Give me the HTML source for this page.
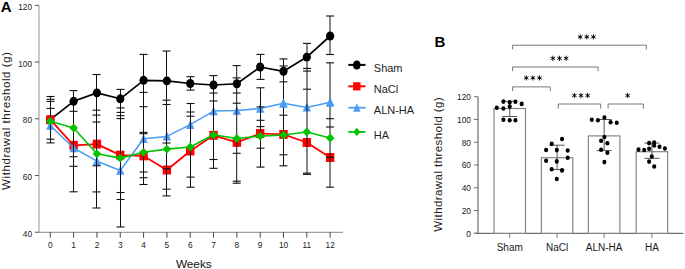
<!DOCTYPE html>
<html><head><meta charset="utf-8"><style>
html,body{margin:0;padding:0;background:#fff;}
body{width:685px;height:269px;overflow:hidden;font-family:"Liberation Sans",sans-serif;}
svg{display:block;}
</style></head><body>
<svg width="685" height="269" viewBox="0 0 685 269">
<rect width="685" height="269" fill="#fff"/>
<text x="0.8" y="11.9" font-family="Liberation Sans, sans-serif" font-weight="bold" font-size="15" fill="#000">A</text>
<text transform="translate(10.0,120.6) rotate(-90)" text-anchor="middle" font-family="Liberation Sans, sans-serif" font-size="11.5" letter-spacing="0.58" fill="#222">Withdrawal threshold (g)</text>
<line x1="39" y1="5.3" x2="39" y2="232.3" stroke="#c4c4c4" stroke-width="1.8"/>
<line x1="34.8" y1="232.30" x2="39" y2="232.30" stroke="#555" stroke-width="1"/>
<text x="32" y="236.90" text-anchor="end" font-family="Liberation Sans, sans-serif" font-size="8.3" fill="#1a1a1a">40</text>
<line x1="34.8" y1="175.55" x2="39" y2="175.55" stroke="#555" stroke-width="1"/>
<text x="32" y="180.15" text-anchor="end" font-family="Liberation Sans, sans-serif" font-size="8.3" fill="#1a1a1a">60</text>
<line x1="34.8" y1="118.80" x2="39" y2="118.80" stroke="#555" stroke-width="1"/>
<text x="32" y="123.40" text-anchor="end" font-family="Liberation Sans, sans-serif" font-size="8.3" fill="#1a1a1a">80</text>
<line x1="34.8" y1="62.05" x2="39" y2="62.05" stroke="#555" stroke-width="1"/>
<text x="32" y="66.65" text-anchor="end" font-family="Liberation Sans, sans-serif" font-size="8.3" fill="#1a1a1a">100</text>
<line x1="34.8" y1="5.30" x2="39" y2="5.30" stroke="#555" stroke-width="1"/>
<text x="32" y="9.90" text-anchor="end" font-family="Liberation Sans, sans-serif" font-size="8.3" fill="#1a1a1a">120</text>
<line x1="35" y1="232.3" x2="343" y2="232.3" stroke="#8a8a8a" stroke-width="1"/>
<line x1="50.30" y1="232.3" x2="50.30" y2="237.7" stroke="#444" stroke-width="1"/>
<text x="50.30" y="248" text-anchor="middle" font-family="Liberation Sans, sans-serif" font-size="8.3" fill="#1a1a1a">0</text>
<line x1="73.62" y1="232.3" x2="73.62" y2="237.7" stroke="#444" stroke-width="1"/>
<text x="73.62" y="248" text-anchor="middle" font-family="Liberation Sans, sans-serif" font-size="8.3" fill="#1a1a1a">1</text>
<line x1="96.94" y1="232.3" x2="96.94" y2="237.7" stroke="#444" stroke-width="1"/>
<text x="96.94" y="248" text-anchor="middle" font-family="Liberation Sans, sans-serif" font-size="8.3" fill="#1a1a1a">2</text>
<line x1="120.26" y1="232.3" x2="120.26" y2="237.7" stroke="#444" stroke-width="1"/>
<text x="120.26" y="248" text-anchor="middle" font-family="Liberation Sans, sans-serif" font-size="8.3" fill="#1a1a1a">3</text>
<line x1="143.58" y1="232.3" x2="143.58" y2="237.7" stroke="#444" stroke-width="1"/>
<text x="143.58" y="248" text-anchor="middle" font-family="Liberation Sans, sans-serif" font-size="8.3" fill="#1a1a1a">4</text>
<line x1="166.90" y1="232.3" x2="166.90" y2="237.7" stroke="#444" stroke-width="1"/>
<text x="166.90" y="248" text-anchor="middle" font-family="Liberation Sans, sans-serif" font-size="8.3" fill="#1a1a1a">5</text>
<line x1="190.22" y1="232.3" x2="190.22" y2="237.7" stroke="#444" stroke-width="1"/>
<text x="190.22" y="248" text-anchor="middle" font-family="Liberation Sans, sans-serif" font-size="8.3" fill="#1a1a1a">6</text>
<line x1="213.54" y1="232.3" x2="213.54" y2="237.7" stroke="#444" stroke-width="1"/>
<text x="213.54" y="248" text-anchor="middle" font-family="Liberation Sans, sans-serif" font-size="8.3" fill="#1a1a1a">7</text>
<line x1="236.86" y1="232.3" x2="236.86" y2="237.7" stroke="#444" stroke-width="1"/>
<text x="236.86" y="248" text-anchor="middle" font-family="Liberation Sans, sans-serif" font-size="8.3" fill="#1a1a1a">8</text>
<line x1="260.18" y1="232.3" x2="260.18" y2="237.7" stroke="#444" stroke-width="1"/>
<text x="260.18" y="248" text-anchor="middle" font-family="Liberation Sans, sans-serif" font-size="8.3" fill="#1a1a1a">9</text>
<line x1="283.50" y1="232.3" x2="283.50" y2="237.7" stroke="#444" stroke-width="1"/>
<text x="283.50" y="248" text-anchor="middle" font-family="Liberation Sans, sans-serif" font-size="8.3" fill="#1a1a1a">10</text>
<line x1="306.82" y1="232.3" x2="306.82" y2="237.7" stroke="#444" stroke-width="1"/>
<text x="306.82" y="248" text-anchor="middle" font-family="Liberation Sans, sans-serif" font-size="8.3" fill="#1a1a1a">11</text>
<line x1="330.14" y1="232.3" x2="330.14" y2="237.7" stroke="#444" stroke-width="1"/>
<text x="330.14" y="248" text-anchor="middle" font-family="Liberation Sans, sans-serif" font-size="8.3" fill="#1a1a1a">12</text>
<text x="193.8" y="267.5" text-anchor="middle" font-family="Liberation Sans, sans-serif" font-size="11.8" fill="#111">Weeks</text>
<polyline points="50.30,119.70 73.62,101.30 96.94,92.90 120.26,98.80 143.58,80.30 166.90,80.90 190.22,83.50 213.54,85.00 236.86,83.75 260.18,67.00 283.50,71.30 306.82,57.10 330.14,36.00" fill="none" stroke="#000" stroke-width="1.7" stroke-linejoin="round"/>
<ellipse cx="50.30" cy="119.70" rx="4.1" ry="4.45" fill="#000"/>
<polyline points="50.30,119.70 73.62,145.30 96.94,144.10 120.26,155.10 143.58,155.90 166.90,170.00 190.22,151.00 213.54,135.30 236.86,142.40 260.18,133.50 283.50,134.40 306.82,142.50 330.14,157.50" fill="none" stroke="#ff0000" stroke-width="1.75" stroke-linejoin="round"/>
<rect x="46.10" y="115.25" width="8.4" height="8.9" fill="#ff0000"/>
<rect x="69.42" y="140.85" width="8.4" height="8.9" fill="#ff0000"/>
<rect x="92.74" y="139.65" width="8.4" height="8.9" fill="#ff0000"/>
<rect x="116.06" y="150.65" width="8.4" height="8.9" fill="#ff0000"/>
<rect x="139.38" y="151.45" width="8.4" height="8.9" fill="#ff0000"/>
<rect x="162.70" y="165.55" width="8.4" height="8.9" fill="#ff0000"/>
<rect x="186.02" y="146.55" width="8.4" height="8.9" fill="#ff0000"/>
<rect x="209.34" y="130.85" width="8.4" height="8.9" fill="#ff0000"/>
<rect x="232.66" y="137.95" width="8.4" height="8.9" fill="#ff0000"/>
<rect x="255.98" y="129.05" width="8.4" height="8.9" fill="#ff0000"/>
<rect x="279.30" y="129.95" width="8.4" height="8.9" fill="#ff0000"/>
<rect x="302.62" y="138.05" width="8.4" height="8.9" fill="#ff0000"/>
<rect x="325.94" y="153.05" width="8.4" height="8.9" fill="#ff0000"/>
<polyline points="50.30,125.50 73.62,148.00 96.94,161.20 120.26,170.50 143.58,138.70 166.90,136.40 190.22,124.70 213.54,111.10 236.86,110.60 260.18,108.50 283.50,103.20 306.82,107.40 330.14,102.30" fill="none" stroke="#4a9cf6" stroke-width="1.5" stroke-linejoin="round"/>
<path d="M50.30,120.80 L54.50,129.70 L46.10,129.70Z" fill="#4a9cf6"/>
<path d="M73.62,143.30 L77.82,152.20 L69.42,152.20Z" fill="#4a9cf6"/>
<path d="M96.94,156.50 L101.14,165.40 L92.74,165.40Z" fill="#4a9cf6"/>
<path d="M120.26,165.80 L124.46,174.70 L116.06,174.70Z" fill="#4a9cf6"/>
<path d="M143.58,134.00 L147.78,142.90 L139.38,142.90Z" fill="#4a9cf6"/>
<path d="M166.90,131.70 L171.10,140.60 L162.70,140.60Z" fill="#4a9cf6"/>
<path d="M190.22,120.00 L194.42,128.90 L186.02,128.90Z" fill="#4a9cf6"/>
<path d="M213.54,106.40 L217.74,115.30 L209.34,115.30Z" fill="#4a9cf6"/>
<path d="M236.86,105.90 L241.06,114.80 L232.66,114.80Z" fill="#4a9cf6"/>
<path d="M260.18,103.80 L264.38,112.70 L255.98,112.70Z" fill="#4a9cf6"/>
<path d="M283.50,98.50 L287.70,107.40 L279.30,107.40Z" fill="#4a9cf6"/>
<path d="M306.82,102.70 L311.02,111.60 L302.62,111.60Z" fill="#4a9cf6"/>
<path d="M330.14,97.60 L334.34,106.50 L325.94,106.50Z" fill="#4a9cf6"/>
<line x1="50.50" y1="96.50" x2="50.50" y2="142.90" stroke="#111" stroke-width="1"/>
<line x1="46.50" y1="96.50" x2="54.50" y2="96.50" stroke="#111" stroke-width="1.1"/>
<line x1="46.50" y1="99.30" x2="54.50" y2="99.30" stroke="#111" stroke-width="1.1"/>
<line x1="46.50" y1="101.40" x2="54.50" y2="101.40" stroke="#111" stroke-width="1.1"/>
<line x1="46.50" y1="108.40" x2="54.50" y2="108.40" stroke="#111" stroke-width="1.1"/>
<line x1="46.50" y1="139.20" x2="54.50" y2="139.20" stroke="#111" stroke-width="1.1"/>
<line x1="46.50" y1="142.90" x2="54.50" y2="142.90" stroke="#111" stroke-width="1.1"/>
<line x1="73.50" y1="90.60" x2="73.50" y2="191.80" stroke="#111" stroke-width="1"/>
<line x1="69.50" y1="90.60" x2="77.50" y2="90.60" stroke="#111" stroke-width="1.1"/>
<line x1="69.50" y1="111.30" x2="77.50" y2="111.30" stroke="#111" stroke-width="1.1"/>
<line x1="69.50" y1="156.70" x2="77.50" y2="156.70" stroke="#111" stroke-width="1.1"/>
<line x1="69.50" y1="166.30" x2="77.50" y2="166.30" stroke="#111" stroke-width="1.1"/>
<line x1="69.50" y1="191.80" x2="77.50" y2="191.80" stroke="#111" stroke-width="1.1"/>
<line x1="96.50" y1="74.50" x2="96.50" y2="208.00" stroke="#111" stroke-width="1"/>
<line x1="92.50" y1="74.50" x2="100.50" y2="74.50" stroke="#111" stroke-width="1.1"/>
<line x1="92.50" y1="110.20" x2="100.50" y2="110.20" stroke="#111" stroke-width="1.1"/>
<line x1="92.50" y1="115.10" x2="100.50" y2="115.10" stroke="#111" stroke-width="1.1"/>
<line x1="92.50" y1="122.00" x2="100.50" y2="122.00" stroke="#111" stroke-width="1.1"/>
<line x1="92.50" y1="165.80" x2="100.50" y2="165.80" stroke="#111" stroke-width="1.1"/>
<line x1="92.50" y1="191.90" x2="100.50" y2="191.90" stroke="#111" stroke-width="1.1"/>
<line x1="92.50" y1="208.00" x2="100.50" y2="208.00" stroke="#111" stroke-width="1.1"/>
<line x1="120.50" y1="89.40" x2="120.50" y2="227.00" stroke="#111" stroke-width="1"/>
<line x1="116.50" y1="89.40" x2="124.50" y2="89.40" stroke="#111" stroke-width="1.1"/>
<line x1="116.50" y1="107.90" x2="124.50" y2="107.90" stroke="#111" stroke-width="1.1"/>
<line x1="116.50" y1="112.40" x2="124.50" y2="112.40" stroke="#111" stroke-width="1.1"/>
<line x1="116.50" y1="115.70" x2="124.50" y2="115.70" stroke="#111" stroke-width="1.1"/>
<line x1="116.50" y1="118.60" x2="124.50" y2="118.60" stroke="#111" stroke-width="1.1"/>
<line x1="116.50" y1="192.50" x2="124.50" y2="192.50" stroke="#111" stroke-width="1.1"/>
<line x1="116.50" y1="199.50" x2="124.50" y2="199.50" stroke="#111" stroke-width="1.1"/>
<line x1="116.50" y1="227.00" x2="124.50" y2="227.00" stroke="#111" stroke-width="1.1"/>
<line x1="143.50" y1="54.40" x2="143.50" y2="184.50" stroke="#111" stroke-width="1"/>
<line x1="139.50" y1="54.40" x2="147.50" y2="54.40" stroke="#111" stroke-width="1.1"/>
<line x1="139.50" y1="92.40" x2="147.50" y2="92.40" stroke="#111" stroke-width="1.1"/>
<line x1="139.50" y1="106.70" x2="147.50" y2="106.70" stroke="#111" stroke-width="1.1"/>
<line x1="139.50" y1="132.40" x2="147.50" y2="132.40" stroke="#111" stroke-width="1.1"/>
<line x1="139.50" y1="133.70" x2="147.50" y2="133.70" stroke="#111" stroke-width="1.1"/>
<line x1="139.50" y1="172.00" x2="147.50" y2="172.00" stroke="#111" stroke-width="1.1"/>
<line x1="139.50" y1="177.70" x2="147.50" y2="177.70" stroke="#111" stroke-width="1.1"/>
<line x1="139.50" y1="184.50" x2="147.50" y2="184.50" stroke="#111" stroke-width="1.1"/>
<line x1="166.50" y1="51.00" x2="166.50" y2="195.90" stroke="#111" stroke-width="1"/>
<line x1="162.50" y1="51.00" x2="170.50" y2="51.00" stroke="#111" stroke-width="1.1"/>
<line x1="162.50" y1="100.20" x2="170.50" y2="100.20" stroke="#111" stroke-width="1.1"/>
<line x1="162.50" y1="104.50" x2="170.50" y2="104.50" stroke="#111" stroke-width="1.1"/>
<line x1="162.50" y1="143.00" x2="170.50" y2="143.00" stroke="#111" stroke-width="1.1"/>
<line x1="162.50" y1="168.70" x2="170.50" y2="168.70" stroke="#111" stroke-width="1.1"/>
<line x1="162.50" y1="189.20" x2="170.50" y2="189.20" stroke="#111" stroke-width="1.1"/>
<line x1="162.50" y1="195.90" x2="170.50" y2="195.90" stroke="#111" stroke-width="1.1"/>
<line x1="190.50" y1="76.70" x2="190.50" y2="90.10" stroke="#111" stroke-width="1"/>
<line x1="186.50" y1="76.70" x2="194.50" y2="76.70" stroke="#111" stroke-width="1.1"/>
<line x1="186.50" y1="90.10" x2="194.50" y2="90.10" stroke="#111" stroke-width="1.1"/>
<line x1="190.50" y1="103.50" x2="190.50" y2="187.20" stroke="#111" stroke-width="1"/>
<line x1="186.50" y1="103.50" x2="194.50" y2="103.50" stroke="#111" stroke-width="1.1"/>
<line x1="186.50" y1="112.00" x2="194.50" y2="112.00" stroke="#111" stroke-width="1.1"/>
<line x1="186.50" y1="116.20" x2="194.50" y2="116.20" stroke="#111" stroke-width="1.1"/>
<line x1="186.50" y1="177.10" x2="194.50" y2="177.10" stroke="#111" stroke-width="1.1"/>
<line x1="186.50" y1="187.20" x2="194.50" y2="187.20" stroke="#111" stroke-width="1.1"/>
<line x1="213.50" y1="75.60" x2="213.50" y2="168.30" stroke="#111" stroke-width="1"/>
<line x1="209.50" y1="75.60" x2="217.50" y2="75.60" stroke="#111" stroke-width="1.1"/>
<line x1="209.50" y1="93.00" x2="217.50" y2="93.00" stroke="#111" stroke-width="1.1"/>
<line x1="209.50" y1="101.00" x2="217.50" y2="101.00" stroke="#111" stroke-width="1.1"/>
<line x1="209.50" y1="159.50" x2="217.50" y2="159.50" stroke="#111" stroke-width="1.1"/>
<line x1="209.50" y1="168.30" x2="217.50" y2="168.30" stroke="#111" stroke-width="1.1"/>
<line x1="236.70" y1="65.60" x2="236.70" y2="183.20" stroke="#111" stroke-width="1"/>
<line x1="232.70" y1="65.60" x2="240.70" y2="65.60" stroke="#111" stroke-width="1.1"/>
<line x1="232.70" y1="77.90" x2="240.70" y2="77.90" stroke="#111" stroke-width="1.1"/>
<line x1="232.70" y1="93.00" x2="240.70" y2="93.00" stroke="#111" stroke-width="1.1"/>
<line x1="232.70" y1="103.20" x2="240.70" y2="103.20" stroke="#111" stroke-width="1.1"/>
<line x1="232.70" y1="153.30" x2="240.70" y2="153.30" stroke="#111" stroke-width="1.1"/>
<line x1="232.70" y1="181.20" x2="240.70" y2="181.20" stroke="#111" stroke-width="1.1"/>
<line x1="232.70" y1="183.20" x2="240.70" y2="183.20" stroke="#111" stroke-width="1.1"/>
<line x1="260.50" y1="54.40" x2="260.50" y2="79.40" stroke="#111" stroke-width="1"/>
<line x1="256.50" y1="54.40" x2="264.50" y2="54.40" stroke="#111" stroke-width="1.1"/>
<line x1="256.50" y1="79.40" x2="264.50" y2="79.40" stroke="#111" stroke-width="1.1"/>
<line x1="260.50" y1="87.80" x2="260.50" y2="167.10" stroke="#111" stroke-width="1"/>
<line x1="256.50" y1="87.80" x2="264.50" y2="87.80" stroke="#111" stroke-width="1.1"/>
<line x1="256.50" y1="106.90" x2="264.50" y2="106.90" stroke="#111" stroke-width="1.1"/>
<line x1="256.50" y1="120.30" x2="264.50" y2="120.30" stroke="#111" stroke-width="1.1"/>
<line x1="256.50" y1="126.60" x2="264.50" y2="126.60" stroke="#111" stroke-width="1.1"/>
<line x1="256.50" y1="148.20" x2="264.50" y2="148.20" stroke="#111" stroke-width="1.1"/>
<line x1="256.50" y1="167.10" x2="264.50" y2="167.10" stroke="#111" stroke-width="1.1"/>
<line x1="283.50" y1="58.90" x2="283.50" y2="165.80" stroke="#111" stroke-width="1"/>
<line x1="279.50" y1="58.90" x2="287.50" y2="58.90" stroke="#111" stroke-width="1.1"/>
<line x1="279.50" y1="66.00" x2="287.50" y2="66.00" stroke="#111" stroke-width="1.1"/>
<line x1="279.50" y1="81.80" x2="287.50" y2="81.80" stroke="#111" stroke-width="1.1"/>
<line x1="279.50" y1="115.20" x2="287.50" y2="115.20" stroke="#111" stroke-width="1.1"/>
<line x1="279.50" y1="154.80" x2="287.50" y2="154.80" stroke="#111" stroke-width="1.1"/>
<line x1="279.50" y1="165.80" x2="287.50" y2="165.80" stroke="#111" stroke-width="1.1"/>
<line x1="307.00" y1="43.40" x2="307.00" y2="174.40" stroke="#111" stroke-width="1"/>
<line x1="303.00" y1="43.40" x2="311.00" y2="43.40" stroke="#111" stroke-width="1.1"/>
<line x1="303.00" y1="68.40" x2="311.00" y2="68.40" stroke="#111" stroke-width="1.1"/>
<line x1="303.00" y1="71.10" x2="311.00" y2="71.10" stroke="#111" stroke-width="1.1"/>
<line x1="303.00" y1="89.20" x2="311.00" y2="89.20" stroke="#111" stroke-width="1.1"/>
<line x1="303.00" y1="173.10" x2="311.00" y2="173.10" stroke="#111" stroke-width="1.1"/>
<line x1="303.00" y1="174.40" x2="311.00" y2="174.40" stroke="#111" stroke-width="1.1"/>
<line x1="330.00" y1="16.00" x2="330.00" y2="54.50" stroke="#111" stroke-width="1"/>
<line x1="326.00" y1="16.00" x2="334.00" y2="16.00" stroke="#111" stroke-width="1.1"/>
<line x1="326.00" y1="54.50" x2="334.00" y2="54.50" stroke="#111" stroke-width="1.1"/>
<line x1="330.00" y1="62.80" x2="330.00" y2="187.20" stroke="#111" stroke-width="1"/>
<line x1="326.00" y1="62.80" x2="334.00" y2="62.80" stroke="#111" stroke-width="1.1"/>
<line x1="326.00" y1="118.70" x2="334.00" y2="118.70" stroke="#111" stroke-width="1.1"/>
<line x1="326.00" y1="127.00" x2="334.00" y2="127.00" stroke="#111" stroke-width="1.1"/>
<line x1="326.00" y1="157.20" x2="334.00" y2="157.20" stroke="#111" stroke-width="1.1"/>
<line x1="326.00" y1="187.20" x2="334.00" y2="187.20" stroke="#111" stroke-width="1.1"/>
<ellipse cx="73.62" cy="101.30" rx="4.1" ry="4.45" fill="#000"/>
<ellipse cx="96.94" cy="92.90" rx="4.1" ry="4.45" fill="#000"/>
<ellipse cx="120.26" cy="98.80" rx="4.1" ry="4.45" fill="#000"/>
<ellipse cx="143.58" cy="80.30" rx="4.1" ry="4.45" fill="#000"/>
<ellipse cx="166.90" cy="80.90" rx="4.1" ry="4.45" fill="#000"/>
<ellipse cx="190.22" cy="83.50" rx="4.1" ry="4.45" fill="#000"/>
<ellipse cx="213.54" cy="85.00" rx="4.1" ry="4.45" fill="#000"/>
<ellipse cx="236.86" cy="83.75" rx="4.1" ry="4.45" fill="#000"/>
<ellipse cx="260.18" cy="67.00" rx="4.1" ry="4.45" fill="#000"/>
<ellipse cx="283.50" cy="71.30" rx="4.1" ry="4.45" fill="#000"/>
<ellipse cx="306.82" cy="57.10" rx="4.1" ry="4.45" fill="#000"/>
<ellipse cx="330.14" cy="36.00" rx="4.1" ry="4.45" fill="#000"/>
<path d="M283.50,98.50 L287.70,107.40 L279.30,107.40Z" fill="#4a9cf6"/>
<path d="M330.14,97.60 L334.34,106.50 L325.94,106.50Z" fill="#4a9cf6"/>
<polyline points="50.30,121.20 73.62,128.00 96.94,153.80 120.26,158.10 143.58,152.30 166.90,149.10 190.22,147.00 213.54,134.80 236.86,138.50 260.18,136.10 283.50,135.00 306.82,132.00 330.14,138.00" fill="none" stroke="#00c200" stroke-width="1.6" stroke-linejoin="round"/>
<path d="M50.30,116.80 L54.60,121.20 L50.30,125.60 L46.00,121.20Z" fill="#00c200"/>
<path d="M73.62,123.60 L77.92,128.00 L73.62,132.40 L69.32,128.00Z" fill="#00c200"/>
<path d="M96.94,149.40 L101.24,153.80 L96.94,158.20 L92.64,153.80Z" fill="#00c200"/>
<path d="M120.26,153.70 L124.56,158.10 L120.26,162.50 L115.96,158.10Z" fill="#00c200"/>
<path d="M143.58,147.90 L147.88,152.30 L143.58,156.70 L139.28,152.30Z" fill="#00c200"/>
<path d="M166.90,144.70 L171.20,149.10 L166.90,153.50 L162.60,149.10Z" fill="#00c200"/>
<path d="M190.22,142.60 L194.52,147.00 L190.22,151.40 L185.92,147.00Z" fill="#00c200"/>
<path d="M213.54,130.40 L217.84,134.80 L213.54,139.20 L209.24,134.80Z" fill="#00c200"/>
<path d="M236.86,134.10 L241.16,138.50 L236.86,142.90 L232.56,138.50Z" fill="#00c200"/>
<path d="M260.18,131.70 L264.48,136.10 L260.18,140.50 L255.88,136.10Z" fill="#00c200"/>
<path d="M283.50,130.60 L287.80,135.00 L283.50,139.40 L279.20,135.00Z" fill="#00c200"/>
<path d="M306.82,127.60 L311.12,132.00 L306.82,136.40 L302.52,132.00Z" fill="#00c200"/>
<path d="M330.14,133.60 L334.44,138.00 L330.14,142.40 L325.84,138.00Z" fill="#00c200"/>
<line x1="348.3" y1="64.9" x2="365.5" y2="64.9" stroke="#000" stroke-width="2"/>
<ellipse cx="356.8" cy="64.9" rx="3.7" ry="4.5" fill="#000"/>
<text x="373.8" y="71.50" font-family="Liberation Sans, sans-serif" font-size="11" fill="#1e1e1e">Sham</text>
<line x1="348.3" y1="86.3" x2="365.5" y2="86.3" stroke="#ff0000" stroke-width="2"/>
<rect x="353.1" y="82.2" width="7.4" height="8.2" fill="#ff0000"/>
<text x="373.8" y="92.90" font-family="Liberation Sans, sans-serif" font-size="11" fill="#1e1e1e">NaCl</text>
<line x1="348.3" y1="107.7" x2="365.5" y2="107.7" stroke="#4a9cf6" stroke-width="1.8"/>
<path d="M356.8,103.3 L360.5,111.7 L353.1,111.7Z" fill="#4a9cf6"/>
<text x="373.8" y="114.30" font-family="Liberation Sans, sans-serif" font-size="11" fill="#1e1e1e">ALN-HA</text>
<line x1="348.3" y1="131.9" x2="365.5" y2="131.9" stroke="#00c200" stroke-width="1.8"/>
<path d="M356.80,127.75 L360.50,131.90 L356.80,136.05 L353.10,131.90Z" fill="#00c200"/>
<text x="373.8" y="138.50" font-family="Liberation Sans, sans-serif" font-size="11" fill="#1e1e1e">HA</text>
<text x="434.6" y="46.7" font-family="Liberation Sans, sans-serif" font-weight="bold" font-size="15" fill="#000">B</text>
<text transform="translate(442.4,164.3) rotate(-90)" text-anchor="middle" font-family="Liberation Sans, sans-serif" font-size="11.5" letter-spacing="0.43" fill="#222">Withdrawal threshold (g)</text>
<line x1="478" y1="96.68" x2="478" y2="233.3" stroke="#707070" stroke-width="1.2"/>
<line x1="474" y1="233.30" x2="478" y2="233.30" stroke="#707070" stroke-width="1"/>
<text x="471" y="236.70" text-anchor="end" font-family="Liberation Sans, sans-serif" font-size="8.4" fill="#1a1a1a">0</text>
<line x1="474" y1="210.53" x2="478" y2="210.53" stroke="#707070" stroke-width="1"/>
<text x="471" y="213.93" text-anchor="end" font-family="Liberation Sans, sans-serif" font-size="8.4" fill="#1a1a1a">20</text>
<line x1="474" y1="187.76" x2="478" y2="187.76" stroke="#707070" stroke-width="1"/>
<text x="471" y="191.16" text-anchor="end" font-family="Liberation Sans, sans-serif" font-size="8.4" fill="#1a1a1a">40</text>
<line x1="474" y1="164.99" x2="478" y2="164.99" stroke="#707070" stroke-width="1"/>
<text x="471" y="168.39" text-anchor="end" font-family="Liberation Sans, sans-serif" font-size="8.4" fill="#1a1a1a">60</text>
<line x1="474" y1="142.22" x2="478" y2="142.22" stroke="#707070" stroke-width="1"/>
<text x="471" y="145.62" text-anchor="end" font-family="Liberation Sans, sans-serif" font-size="8.4" fill="#1a1a1a">80</text>
<line x1="474" y1="119.45" x2="478" y2="119.45" stroke="#707070" stroke-width="1"/>
<text x="471" y="122.85" text-anchor="end" font-family="Liberation Sans, sans-serif" font-size="8.4" fill="#1a1a1a">100</text>
<line x1="474" y1="96.68" x2="478" y2="96.68" stroke="#707070" stroke-width="1"/>
<text x="471" y="100.08" text-anchor="end" font-family="Liberation Sans, sans-serif" font-size="8.4" fill="#1a1a1a">120</text>
<line x1="474" y1="233.3" x2="683.5" y2="233.3" stroke="#707070" stroke-width="1.2"/>
<rect x="494.0" y="108.5" width="31.50" height="124.80" fill="#fff" stroke="#858585" stroke-width="1.2"/>
<rect x="541.4" y="157.7" width="31.40" height="75.60" fill="#fff" stroke="#858585" stroke-width="1.2"/>
<rect x="588.4" y="135.9" width="31.50" height="97.40" fill="#fff" stroke="#858585" stroke-width="1.2"/>
<rect x="636.2" y="151.7" width="31.40" height="81.60" fill="#fff" stroke="#858585" stroke-width="1.2"/>
<line x1="509.75" y1="233.3" x2="509.75" y2="237.8" stroke="#707070" stroke-width="1"/>
<text x="509.75" y="250.9" text-anchor="middle" font-family="Liberation Sans, sans-serif" font-size="10" fill="#1a1a1a">Sham</text>
<line x1="509.75" y1="101.3" x2="509.75" y2="116.5" stroke="#555" stroke-width="1"/>
<line x1="502.25" y1="101.3" x2="517.25" y2="101.3" stroke="#555" stroke-width="1"/>
<line x1="502.25" y1="116.5" x2="517.25" y2="116.5" stroke="#555" stroke-width="1"/>
<line x1="557.10" y1="233.3" x2="557.10" y2="237.8" stroke="#707070" stroke-width="1"/>
<text x="557.10" y="250.9" text-anchor="middle" font-family="Liberation Sans, sans-serif" font-size="10" fill="#1a1a1a">NaCl</text>
<line x1="557.10" y1="145.2" x2="557.10" y2="169.6" stroke="#555" stroke-width="1"/>
<line x1="549.60" y1="145.2" x2="564.60" y2="145.2" stroke="#555" stroke-width="1"/>
<line x1="549.60" y1="169.6" x2="564.60" y2="169.6" stroke="#555" stroke-width="1"/>
<line x1="604.15" y1="233.3" x2="604.15" y2="237.8" stroke="#707070" stroke-width="1"/>
<text x="604.15" y="250.9" text-anchor="middle" font-family="Liberation Sans, sans-serif" font-size="10" fill="#1a1a1a">ALN-HA</text>
<line x1="604.15" y1="119.5" x2="604.15" y2="150.6" stroke="#555" stroke-width="1"/>
<line x1="596.65" y1="119.5" x2="611.65" y2="119.5" stroke="#555" stroke-width="1"/>
<line x1="596.65" y1="150.6" x2="611.65" y2="150.6" stroke="#555" stroke-width="1"/>
<line x1="651.90" y1="233.3" x2="651.90" y2="237.8" stroke="#707070" stroke-width="1"/>
<text x="651.90" y="250.9" text-anchor="middle" font-family="Liberation Sans, sans-serif" font-size="10" fill="#1a1a1a">HA</text>
<line x1="651.90" y1="143.1" x2="651.90" y2="158.3" stroke="#555" stroke-width="1"/>
<line x1="644.40" y1="143.1" x2="659.40" y2="143.1" stroke="#555" stroke-width="1"/>
<line x1="644.40" y1="158.3" x2="659.40" y2="158.3" stroke="#555" stroke-width="1"/>
<ellipse cx="496.8" cy="107.7" rx="2.05" ry="2.3" fill="#000"/>
<ellipse cx="503.4" cy="108.5" rx="2.05" ry="2.3" fill="#000"/>
<ellipse cx="503.4" cy="101.6" rx="2.05" ry="2.3" fill="#000"/>
<ellipse cx="509.7" cy="102.2" rx="2.05" ry="2.3" fill="#000"/>
<ellipse cx="509.7" cy="106.6" rx="2.05" ry="2.3" fill="#000"/>
<ellipse cx="515.4" cy="101.8" rx="2.05" ry="2.3" fill="#000"/>
<ellipse cx="521.7" cy="103.9" rx="2.05" ry="2.3" fill="#000"/>
<ellipse cx="503.4" cy="119.7" rx="2.05" ry="2.3" fill="#000"/>
<ellipse cx="509.7" cy="120.2" rx="2.05" ry="2.3" fill="#000"/>
<ellipse cx="515.4" cy="120.3" rx="2.05" ry="2.3" fill="#000"/>
<ellipse cx="562" cy="139" rx="2.05" ry="2.3" fill="#000"/>
<ellipse cx="551.7" cy="143.9" rx="2.05" ry="2.3" fill="#000"/>
<ellipse cx="546.1" cy="150" rx="2.05" ry="2.3" fill="#000"/>
<ellipse cx="556.8" cy="150.1" rx="2.05" ry="2.3" fill="#000"/>
<ellipse cx="567.7" cy="150.5" rx="2.05" ry="2.3" fill="#000"/>
<ellipse cx="567.7" cy="157.8" rx="2.05" ry="2.3" fill="#000"/>
<ellipse cx="546.1" cy="160.8" rx="2.05" ry="2.3" fill="#000"/>
<ellipse cx="556.8" cy="161.4" rx="2.05" ry="2.3" fill="#000"/>
<ellipse cx="551.7" cy="169.3" rx="2.05" ry="2.3" fill="#000"/>
<ellipse cx="562" cy="170.4" rx="2.05" ry="2.3" fill="#000"/>
<ellipse cx="556.8" cy="179" rx="2.05" ry="2.3" fill="#000"/>
<ellipse cx="591.8" cy="119.8" rx="2.05" ry="2.3" fill="#000"/>
<ellipse cx="597.9" cy="120.3" rx="2.05" ry="2.3" fill="#000"/>
<ellipse cx="604.4" cy="117.5" rx="2.05" ry="2.3" fill="#000"/>
<ellipse cx="610.6" cy="122.2" rx="2.05" ry="2.3" fill="#000"/>
<ellipse cx="616.7" cy="122.7" rx="2.05" ry="2.3" fill="#000"/>
<ellipse cx="604.4" cy="137" rx="2.05" ry="2.3" fill="#000"/>
<ellipse cx="601.1" cy="140.8" rx="2.05" ry="2.3" fill="#000"/>
<ellipse cx="607.4" cy="143.3" rx="2.05" ry="2.3" fill="#000"/>
<ellipse cx="601.1" cy="149.8" rx="2.05" ry="2.3" fill="#000"/>
<ellipse cx="607.4" cy="152.8" rx="2.05" ry="2.3" fill="#000"/>
<ellipse cx="604.4" cy="162.1" rx="2.05" ry="2.3" fill="#000"/>
<ellipse cx="638.5" cy="149.6" rx="2.05" ry="2.3" fill="#000"/>
<ellipse cx="644.2" cy="150" rx="2.05" ry="2.3" fill="#000"/>
<ellipse cx="649.1" cy="143.1" rx="2.05" ry="2.3" fill="#000"/>
<ellipse cx="649.1" cy="148.8" rx="2.05" ry="2.3" fill="#000"/>
<ellipse cx="654.2" cy="142.6" rx="2.05" ry="2.3" fill="#000"/>
<ellipse cx="654.2" cy="145.5" rx="2.05" ry="2.3" fill="#000"/>
<ellipse cx="659.5" cy="146.7" rx="2.05" ry="2.3" fill="#000"/>
<ellipse cx="664.9" cy="148.5" rx="2.05" ry="2.3" fill="#000"/>
<ellipse cx="651.8" cy="156.5" rx="2.05" ry="2.3" fill="#000"/>
<ellipse cx="649.1" cy="161.6" rx="2.05" ry="2.3" fill="#000"/>
<ellipse cx="654.2" cy="166.5" rx="2.05" ry="2.3" fill="#000"/>
<path d="M512.6,49.4 L512.6,45.2 L646.3,45.2 L646.3,49.4" fill="none" stroke="#777" stroke-width="1"/>
<path d="M580.20,34.30L580.20,39.50M577.95,35.60L582.45,38.20M582.45,35.60L577.95,38.20" stroke="#1a1a1a" stroke-width="1.0" fill="none"/>
<circle cx="580.20" cy="36.90" r="0.9" fill="#000"/>
<path d="M586.80,34.30L586.80,39.50M584.55,35.60L589.05,38.20M589.05,35.60L584.55,38.20" stroke="#1a1a1a" stroke-width="1.0" fill="none"/>
<circle cx="586.80" cy="36.90" r="0.9" fill="#000"/>
<path d="M593.40,34.30L593.40,39.50M591.15,35.60L595.65,38.20M595.65,35.60L591.15,38.20" stroke="#1a1a1a" stroke-width="1.0" fill="none"/>
<circle cx="593.40" cy="36.90" r="0.9" fill="#000"/>
<path d="M512.6,71.3 L512.6,67.0 L598.1,67.0 L598.1,71.3" fill="none" stroke="#777" stroke-width="1"/>
<path d="M552.90,55.70L552.90,60.90M550.65,57.00L555.15,59.60M555.15,57.00L550.65,59.60" stroke="#1a1a1a" stroke-width="1.0" fill="none"/>
<circle cx="552.90" cy="58.30" r="0.9" fill="#000"/>
<path d="M559.50,55.70L559.50,60.90M557.25,57.00L561.75,59.60M561.75,57.00L557.25,59.60" stroke="#1a1a1a" stroke-width="1.0" fill="none"/>
<circle cx="559.50" cy="58.30" r="0.9" fill="#000"/>
<path d="M566.10,55.70L566.10,60.90M563.85,57.00L568.35,59.60M568.35,57.00L563.85,59.60" stroke="#1a1a1a" stroke-width="1.0" fill="none"/>
<circle cx="566.10" cy="58.30" r="0.9" fill="#000"/>
<path d="M512.6,91.1 L512.6,86.9 L550.3,86.9 L550.3,91.1" fill="none" stroke="#777" stroke-width="1"/>
<path d="M526.30,75.30L526.30,80.50M524.05,76.60L528.55,79.20M528.55,76.60L524.05,79.20" stroke="#1a1a1a" stroke-width="1.0" fill="none"/>
<circle cx="526.30" cy="77.90" r="0.9" fill="#000"/>
<path d="M532.90,75.30L532.90,80.50M530.65,76.60L535.15,79.20M535.15,76.60L530.65,79.20" stroke="#1a1a1a" stroke-width="1.0" fill="none"/>
<circle cx="532.90" cy="77.90" r="0.9" fill="#000"/>
<path d="M539.50,75.30L539.50,80.50M537.25,76.60L541.75,79.20M541.75,76.60L537.25,79.20" stroke="#1a1a1a" stroke-width="1.0" fill="none"/>
<circle cx="539.50" cy="77.90" r="0.9" fill="#000"/>
<path d="M558.3,108.6 L558.3,104.0 L600.7,104.0 L600.7,108.6" fill="none" stroke="#777" stroke-width="1"/>
<path d="M574.40,92.90L574.40,98.10M572.15,94.20L576.65,96.80M576.65,94.20L572.15,96.80" stroke="#1a1a1a" stroke-width="1.0" fill="none"/>
<circle cx="574.40" cy="95.50" r="0.9" fill="#000"/>
<path d="M581.00,92.90L581.00,98.10M578.75,94.20L583.25,96.80M583.25,94.20L578.75,96.80" stroke="#1a1a1a" stroke-width="1.0" fill="none"/>
<circle cx="581.00" cy="95.50" r="0.9" fill="#000"/>
<path d="M587.60,92.90L587.60,98.10M585.35,94.20L589.85,96.80M589.85,94.20L585.35,96.80" stroke="#1a1a1a" stroke-width="1.0" fill="none"/>
<circle cx="587.60" cy="95.50" r="0.9" fill="#000"/>
<path d="M608.1,108.6 L608.1,104.0 L643.4,104.0 L643.4,108.6" fill="none" stroke="#777" stroke-width="1"/>
<path d="M627.60,92.90L627.60,98.10M625.35,94.20L629.85,96.80M629.85,94.20L625.35,96.80" stroke="#1a1a1a" stroke-width="1.0" fill="none"/>
<circle cx="627.60" cy="95.50" r="0.9" fill="#000"/>
</svg>
</body></html>
